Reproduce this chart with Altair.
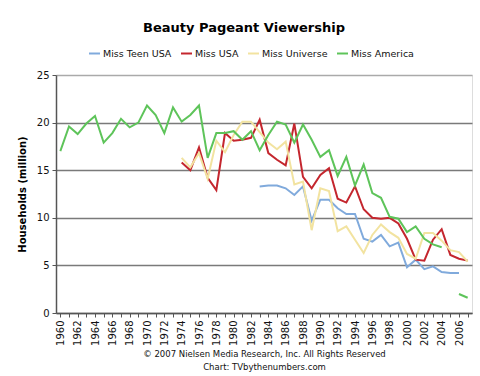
import altair as alt
import pandas as pd

years = list(range(1960, 2008))

names = ["Miss Teen USA", "Miss USA", "Miss Universe", "Miss America"]
colors = ["#80aadc", "#c4262e", "#f2e3a0", "#5ec45a"]

teen_start = 1983
teen = [13.3, 13.4, 13.4, 13.1, 12.4, 13.3, 9.7, 11.9, 11.9, 11.0, 10.4, 10.4,
        7.8, 7.5, 8.2, 7.0, 7.4, 4.8, 5.6, 4.6, 4.9, 4.3, 4.2, 4.2]

usa_start = 1974
usa = [15.8, 15.0, 17.4, 14.2, 12.9, 18.9, 18.1, 18.2, 18.4, 20.3, 16.8, 16.1,
       15.5, 19.9, 14.3, 13.1, 14.5, 15.2, 12.0, 11.6, 13.3, 10.9, 10.0, 9.9,
       10.0, 9.4, 7.8, 5.6, 5.5, 7.7, 8.8, 6.1, 5.7, 5.5]

universe_start = 1974
universe = [16.3, 15.3, 16.8, 14.1, 18.1, 16.9, 18.7, 20.1, 20.1, 19.0, 17.9, 17.2,
            18.0, 13.5, 13.8, 8.7, 13.1, 12.8, 8.6, 9.1, 7.7, 6.3, 8.2, 9.3,
            8.5, 7.9, 6.2, 5.7, 8.4, 8.4, 7.6, 6.6, 6.4, 5.4]

america_start = 1960
america = [17.0, 19.6, 18.8, 19.9, 20.7, 17.9, 18.9, 20.4, 19.5, 20.0, 21.8, 20.8,
           18.9, 21.6, 20.1, 20.8, 21.8, 16.3, 18.9, 18.9, 19.1, 18.2, 19.1, 17.1,
           18.7, 20.1, 19.8, 17.9, 19.8, 18.2, 16.4, 17.1, 14.4, 16.4, 13.4, 15.6,
           12.6, 12.1, 10.1, 9.9, 8.5, 9.1, 7.8, 7.2, 6.9, None, 2.0, 1.6]

y_ticks = [0, 5, 10, 15, 20, 25]

rows = []
for name, start, vals in [(names[0], teen_start, teen), (names[1], usa_start, usa),
                          (names[2], universe_start, universe), (names[3], america_start, america)]:
    seg = 0
    for i, v in enumerate(vals):
        if v is None:
            seg += 1
            continue
        rows.append({"year": start + i, "value": v, "pageant": name, "seg": f"{name}-{seg}"})
df = pd.DataFrame(rows)

FONT = "DejaVu Sans"

chart = alt.Chart(df).mark_line(strokeWidth=2).encode(
    x=alt.X("year:Q",
            scale=alt.Scale(domain=[1959.5, 2007.5], nice=False, zero=False),
            axis=alt.Axis(values=years, format="d",
                          labelExpr="datum.value % 2 == 0 ? datum.label : ''",
                          labelAngle=270, labelOverlap=False, labelFlush=False,
                          labelFontSize=10, labelFont=FONT, labelColor="#111",
                          labelPadding=3, tickSize=4, tickColor="#555",
                          domainColor="#555", domainWidth=1.5, grid=False,
                          title=["\u00a9 2007 Nielsen Media Research, Inc. All Rights Reserved",
                                 "Chart: TVbythenumbers.com"],
                          titleFont=FONT, titleFontSize=8.5, titleFontWeight="normal",
                          titleColor="#111", titleLineHeight=13, titlePadding=4)),
    y=alt.Y("value:Q",
            scale=alt.Scale(domain=[0, 25], nice=False),
            axis=alt.Axis(values=y_ticks, grid=True,
                          gridColor={"condition": {"test": "datum.value === 25", "value": "#aaaaaa"},
                                     "value": "#7a7a7a"},
                          gridWidth=1.5, tickSize=4, tickColor="#555",
                          domainColor="#555", domainWidth=1.5,
                          labelFontSize=10, labelFont=FONT, labelColor="#111", labelPadding=3,
                          title="Households (million)", titleFont=FONT, titleFontSize=10,
                          titleFontWeight="bold", titleColor="#000", titlePadding=9)),
    color=alt.Color("pageant:N",
                    scale=alt.Scale(domain=names, range=colors),
                    legend=alt.Legend(orient="none", legendX=32, legendY=-28,
                                      direction="horizontal", columns=4, title=None,
                                      symbolType="stroke", symbolSize=121,
                                      symbolStrokeWidth=2, labelFontSize=9.5,
                                      labelFont=FONT, labelColor="#111", labelOffset=2,
                                      columnPadding=5)),
    detail="seg:N",
    order=alt.Order("year:Q"),
).properties(
    width=416, height=238,
    title=alt.TitleParams("Beauty Pageant Viewership", font=FONT, fontSize=13,
                          fontWeight="bold", color="#000", anchor="middle",
                          dx=-20, offset=12),
    autosize=alt.AutoSizeParams(type="none"),
    padding={"left": 56, "top": 75, "right": 8, "bottom": 63},
).configure_view(stroke="#aaaaaa", strokeWidth=1).configure(background="white")

chart.save("out.html", embed_options={"renderer": "svg", "actions": False})
